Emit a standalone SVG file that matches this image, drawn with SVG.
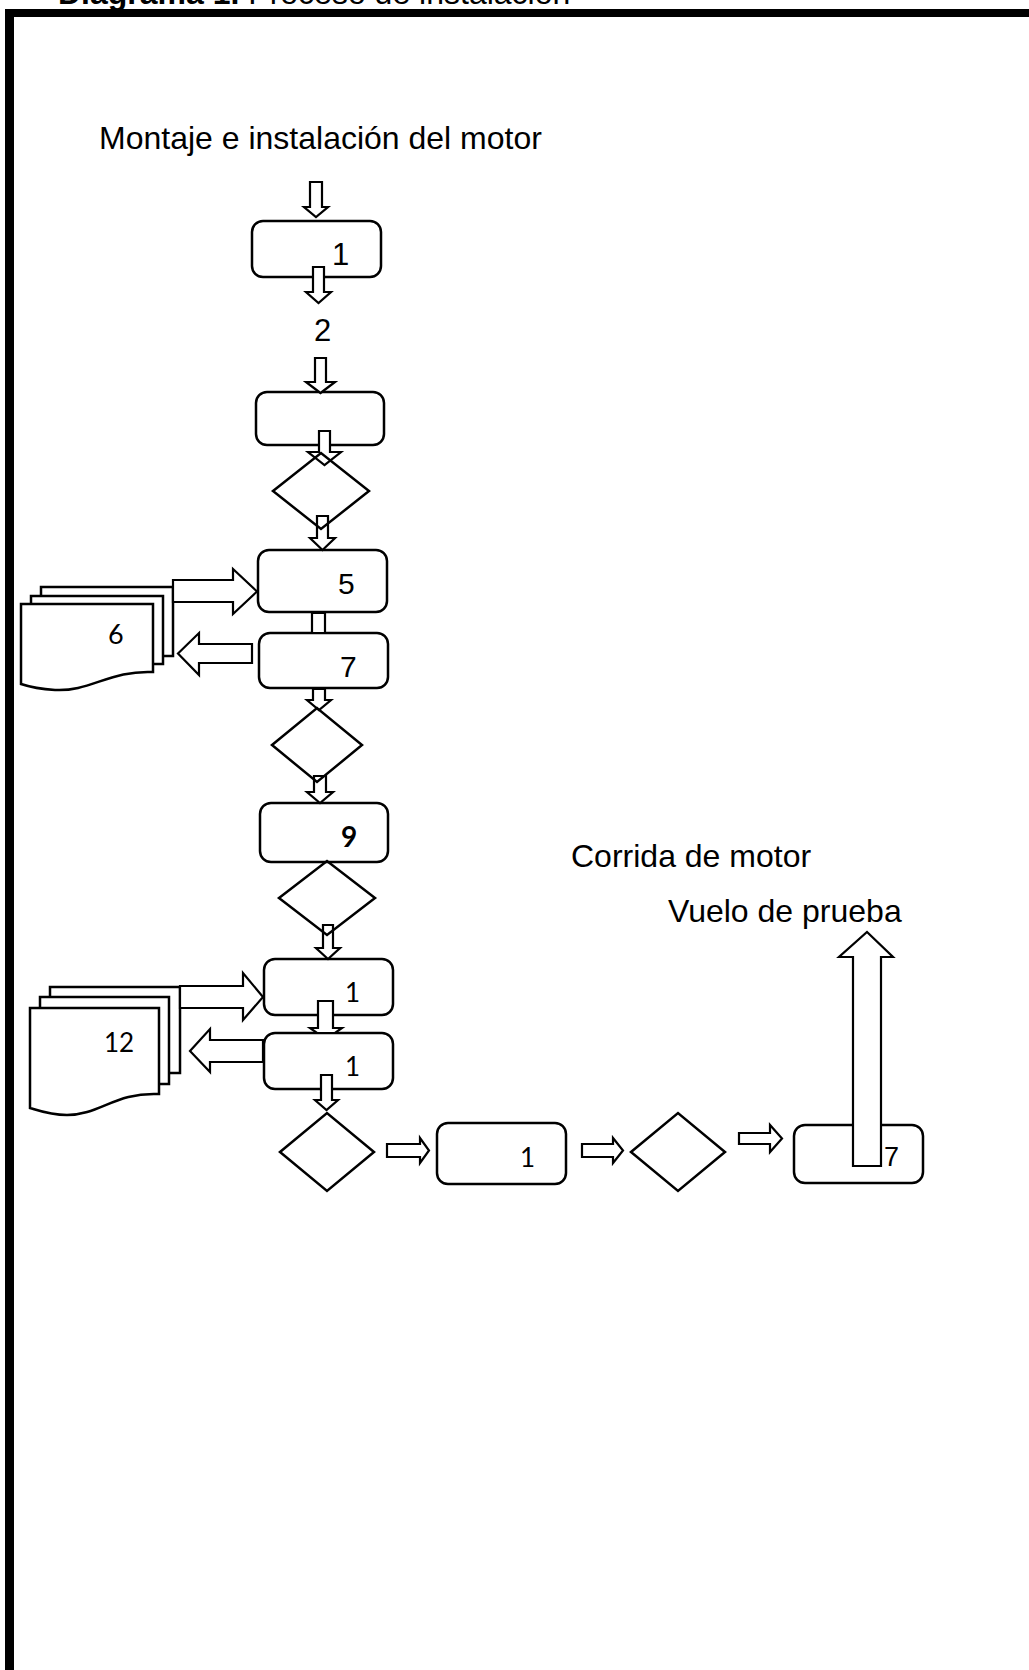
<svg xmlns="http://www.w3.org/2000/svg" width="1029" height="1670" viewBox="0 0 1029 1670">
<style>
.frame{fill:#000}
.box{fill:#fff;stroke:#000;stroke-width:2.5}
.doc{fill:#fff;stroke:#000;stroke-width:2.5;stroke-linejoin:miter}
.dia{fill:none;stroke:#000;stroke-width:2.5}
.arr{fill:#fff;stroke:#000;stroke-width:2.2;stroke-linejoin:miter}
.t{font-family:"Liberation Sans",Arial,sans-serif;fill:#000}
.c{font-family:Lato,"Open Sans",sans-serif;fill:#000}
</style>
<rect width="1029" height="1670" fill="#fff"/>
<g id="title">
<text class="t" x="58" y="4" font-size="32"><tspan font-weight="bold">Diagrama 1.</tspan> Proceso de instalación</text>
</g>
<g id="frame">
<rect class="frame" x="5" y="9" width="1024" height="8"/>
<rect class="frame" x="5" y="9" width="9" height="1661"/>
</g>
<g id="labels">
<text class="t" x="314" y="341" font-size="31">2</text>
<text class="t" x="99" y="149" font-size="32">Montaje e instalación del motor</text>
<text class="t" x="571" y="867" font-size="32">Corrida de motor</text>
<text class="t" x="668" y="922" font-size="32">Vuelo de prueba</text>
</g>
<g id="box1"><rect class="box" x="252" y="221" width="129" height="56" rx="11"/><text class="t" x="332" y="265" font-size="31">1</text></g>
<g id="box2"><rect class="box" x="256" y="392" width="128" height="53" rx="11"/></g>
<g id="box5"><rect class="box" x="258" y="550" width="129" height="62" rx="11"/><text class="t" x="338" y="594" font-size="30">5</text></g>
<g id="box7"><rect class="box" x="259" y="633" width="129" height="55" rx="11"/><text class="t" x="340" y="677" font-size="30">7</text></g>
<g id="box9"><rect class="box" x="260" y="803" width="128" height="59" rx="11"/><text class="c" x="341" y="847" font-size="28" font-weight="bold">9</text></g>
<g id="box10"><rect class="box" x="264" y="959" width="129" height="56" rx="11"/><text class="c" x="345" y="1002" font-size="26">1</text></g>
<g id="box11"><rect class="box" x="264" y="1033" width="129" height="56" rx="11"/><text class="c" x="345" y="1076" font-size="26">1</text></g>
<g id="box12"><rect class="box" x="437" y="1123" width="129" height="61" rx="11"/><text class="c" x="520" y="1167" font-size="26">1</text></g>
<g id="box13"><rect class="box" x="794" y="1125" width="129" height="58" rx="11"/><text class="t" x="884" y="1166" font-size="27">7</text></g>
<g id="doc6">
<rect class="doc" x="41" y="587" width="132" height="69"/>
<rect class="doc" x="31" y="596" width="132" height="68"/>
<path class="doc" d="M21,604 H153 V672 C110,670 90,692 55,690 C40,689 30,687 21,684 Z"/>
<text class="c" x="108" y="644" font-size="27">6</text>
</g>
<g id="doc12">
<rect class="doc" x="50" y="987" width="130" height="86"/>
<rect class="doc" x="40" y="997" width="129" height="87"/>
<path class="doc" d="M30,1008 H159 V1094 C115,1092 100,1115 67,1115 C50,1115 40,1111 30,1108 Z"/>
<text class="c" x="104" y="1052" font-size="26">12</text>
</g>
<g id="connectors">
<polygon class="arr" points="310,182 322,182 322,207 328,207 316,217 304,207 310,207"/>
<polygon class="arr" points="313,267 324,267 324,292 331,292 318.5,303 306,292 313,292"/>
<polygon class="arr" points="315,358 326,358 326,382 335,382 320.5,393 306,382 315,382"/>
<polygon class="arr" points="319,431 330,431 330,452 341,452 324.5,465 308,452 319,452"/>
<polygon class="arr" points="317,516 328,516 328,538 335,538 322.5,550 310,538 317,538"/>
<polygon class="arr" points="312,613 325,613 325,633 312,633"/>
<polygon class="arr" points="313,689 325,689 325,700 331,700 319,710 307,700 313,700"/>
<polygon class="arr" points="314,776 326,776 326,792 333,792 320,803 307,792 314,792"/>
<polygon class="arr" points="323,925 333,925 333,948 340,948 328,959 316,948 323,948"/>
<polygon class="arr" points="318,1001 333,1001 333,1028 342,1028 335,1033 317,1033 310,1028 318,1028"/>
<polygon class="arr" points="321,1075 332,1075 332,1100 338,1100 326.5,1110 315,1100 321,1100"/>
<polygon class="arr" points="387,1144 420,1144 420,1138 429,1150.5 420,1163 420,1157 387,1157"/>
<polygon class="arr" points="582,1144 613,1144 613,1138 623,1150.5 613,1163 613,1157 582,1157"/>
<polygon class="arr" points="739,1133 770,1133 770,1125 782,1138.5 770,1152 770,1144 739,1144"/>
<polygon class="arr" points="853,1166 853,957 839,957 867,932 893,957 881,957 881,1166"/>
<polygon class="arr" points="173,580 233,580 233,569 257,591.5 233,614 233,602 173,602"/>
<polygon class="arr" points="252,644 199,644 199,633 178,653.5 199,675 199,663 252,663"/>
<polygon class="arr" points="180,986 243,986 243,973 263,997 243,1020 243,1008 180,1008"/>
<polygon class="arr" points="263,1040 210,1040 210,1029 190,1051 210,1072 210,1062 263,1062"/>
</g>
<g id="dec1"><polygon class="dia" points="273,491 321,453 369,491 321,529"/></g>
<g id="dec2"><polygon class="dia" points="272,745 317,708 362,745 317,782"/></g>
<g id="dec3"><polygon class="dia" points="279,898 327,861 375,898 327,935"/></g>
<g id="dec4"><polygon class="dia" points="280,1152 327,1113 374,1152 327,1191"/></g>
<g id="dec5"><polygon class="dia" points="631,1152 678,1113 725,1152 678,1191"/></g>
</svg>
